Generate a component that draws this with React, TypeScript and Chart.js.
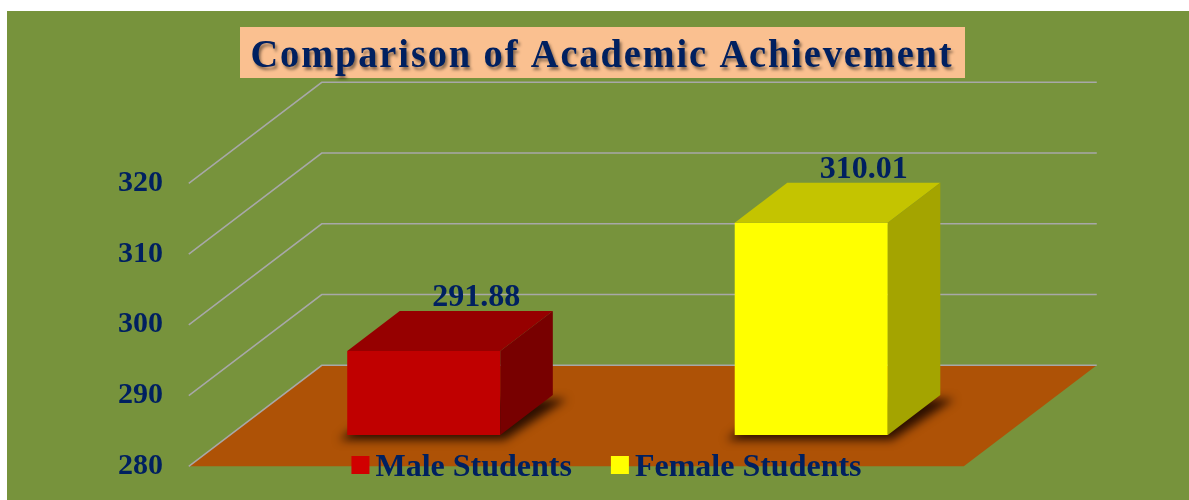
import React, { useEffect, useRef } from "react";
import { Chart, registerables } from "chart.js";

Chart.register(...registerables);

const categories = ["Male Students", "Female Students"];
const values = [291.88, 310.01];
const valueLabels = ["291.88", "310.01"];
const frontColors = ["#C00000", "#FFFF00"];
const topColors = ["#960000", "#C4C400"];
const sideColors = ["#780000", "#A4A400"];
const legendColors = ["#D00000", "#FFFF00"];
const yMin = 280;
const yMax = 320;
const yStep = 10;
const titleText = "Comparison of Academic Achievement";

const SERIF = '"Liberation Serif", "Times New Roman", serif';
const NAVY = "#002060";
// depth vector of the 3D floor and where the bars sit in it
const DEPTH_DX = 133;
const DEPTH_DY = -101;
const BAR_FRONT_T = 0.31;
const BAR_DEPTH_T = 0.395;

const scenePlugin = {
  id: "scene3d",
  beforeDraw(chart: any) {
    const ctx = chart.ctx as CanvasRenderingContext2D;
    const w = chart.width;
    const h = chart.height;
    const area = chart.chartArea;
    const ys = chart.scales.y;
    ctx.save();
    ctx.fillStyle = "#ffffff";
    ctx.fillRect(0, 0, w, h);
    ctx.fillStyle = "#77933C";
    ctx.fillRect(7, 11, w - 7, h - 11);

    // title box
    ctx.fillStyle = "#FAC090";
    ctx.fillRect(240, 27, 725, 51);
    ctx.font = `bold 40px ${SERIF}`;
    (ctx as any).letterSpacing = "2px";
    const tw = ctx.measureText(titleText).width;
    const sx = 703 / tw;
    ctx.save();
    ctx.translate(602, 67);
    ctx.scale(sx, 1);
    ctx.textAlign = "center";
    ctx.textBaseline = "alphabetic";
    ctx.shadowColor = "rgba(0,0,0,0.45)";
    ctx.shadowBlur = 3;
    ctx.shadowOffsetX = 2;
    ctx.shadowOffsetY = 3;
    ctx.fillStyle = NAVY;
    ctx.fillText(titleText, 0, 0);
    ctx.restore();
    (ctx as any).letterSpacing = "0px";

    const fx = -BAR_FRONT_T * DEPTH_DX;
    const fy = -BAR_FRONT_T * DEPTH_DY;
    const bx = (1 - BAR_FRONT_T) * DEPTH_DX;
    const by = (1 - BAR_FRONT_T) * DEPTH_DY;

    // floor
    const yb = ys.getPixelForValue(yMin);
    ctx.fillStyle = "#AE5206";
    ctx.beginPath();
    ctx.moveTo(area.left + fx, yb + fy);
    ctx.lineTo(area.right + fx, yb + fy);
    ctx.lineTo(area.right + bx, yb + by);
    ctx.lineTo(area.left + bx, yb + by);
    ctx.closePath();
    ctx.fill();

    // gridlines: side wall diagonal + back wall horizontal
    ctx.strokeStyle = "#A8A8A8";
    ctx.lineWidth = 1.5;
    for (const t of ys.ticks) {
      const p = ys.getPixelForValue(t.value);
      ctx.beginPath();
      ctx.moveTo(area.left + fx, p + fy);
      ctx.lineTo(area.left + bx, p + by);
      ctx.lineTo(area.right + bx, p + by);
      ctx.stroke();
    }
    ctx.restore();
  },
  beforeDatasetsDraw(chart: any) {
    const ctx = chart.ctx as CanvasRenderingContext2D;
    const meta = chart.getDatasetMeta(0);
    const dx = BAR_DEPTH_T * DEPTH_DX;
    const dy = BAR_DEPTH_T * DEPTH_DY;
    ctx.save();
    ctx.filter = "blur(5px)";
    ctx.fillStyle = "rgba(30,8,0,0.9)";
    meta.data.forEach((el: any) => {
      const { x, base, width } = el.getProps(["x", "base", "width"], true);
      const L = x - width / 2 - 8;
      const R = x + width / 2 + 4;
      ctx.beginPath();
      ctx.moveTo(L, base + 5);
      ctx.lineTo(R, base + 5);
      ctx.lineTo(R + dx + 10, base + dy + 4);
      ctx.lineTo(L + dx, base + dy + 4);
      ctx.closePath();
      ctx.fill();
    });
    ctx.restore();
  },
  afterDatasetsDraw(chart: any) {
    const ctx = chart.ctx as CanvasRenderingContext2D;
    const meta = chart.getDatasetMeta(0);
    const area = chart.chartArea;
    const dx = BAR_DEPTH_T * DEPTH_DX;
    const dy = BAR_DEPTH_T * DEPTH_DY;
    ctx.save();
    meta.data.forEach((el: any, i: number) => {
      const { x, y, base, width } = el.getProps(["x", "y", "base", "width"], true);
      const L = x - width / 2;
      const R = x + width / 2;
      ctx.fillStyle = topColors[i];
      ctx.beginPath();
      ctx.moveTo(L, y);
      ctx.lineTo(R, y);
      ctx.lineTo(R + dx, y + dy);
      ctx.lineTo(L + dx, y + dy);
      ctx.closePath();
      ctx.fill();
      ctx.fillStyle = sideColors[i];
      ctx.beginPath();
      ctx.moveTo(R, y);
      ctx.lineTo(R + dx, y + dy);
      ctx.lineTo(R + dx, base + dy);
      ctx.lineTo(R, base);
      ctx.closePath();
      ctx.fill();

      ctx.fillStyle = NAVY;
      ctx.font = `bold 32px ${SERIF}`;
      ctx.textAlign = "center";
      ctx.textBaseline = "alphabetic";
      ctx.fillText(valueLabels[i], x + dx, y + dy - 5);
    });

    // legend
    ctx.font = `bold 32px ${SERIF}`;
    const sq = 18;
    const gap = 6;
    const spacing = 39;
    const widths = categories.map((c) => ctx.measureText(c).width);
    const total = widths.reduce((a, b) => a + b + sq + gap, 0) + spacing * (categories.length - 1);
    let lx = (area.left + area.right) / 2 - 11 - total / 2;
    const ly = 456;
    categories.forEach((c, i) => {
      ctx.fillStyle = legendColors[i];
      ctx.fillRect(lx, ly, sq, sq);
      ctx.fillStyle = NAVY;
      ctx.textAlign = "left";
      ctx.textBaseline = "alphabetic";
      ctx.fillText(c, lx + sq + gap, ly + 20);
      lx += sq + gap + widths[i] + spacing;
    });
    ctx.restore();
  },
};

export default function App() {
  const ref = useRef<HTMLCanvasElement | null>(null);
  useEffect(() => {
    if (!ref.current) return;
    const chart = new Chart(ref.current, {
      type: "bar",
      data: {
        labels: categories,
        datasets: [
          {
            data: values,
            base: yMin,
            backgroundColor: frontColors,
            borderWidth: 0,
            barPercentage: 0.395,
            categoryPercentage: 1,
          },
        ],
      },
      options: {
        responsive: true,
        maintainAspectRatio: false,
        animation: false,
        layout: { padding: { left: 0, top: 152, right: 184, bottom: 65 } },
        plugins: {
          legend: { display: false },
          tooltip: { enabled: false },
          title: { display: false },
        },
        scales: {
          x: { display: false },
          y: {
            min: yMin,
            max: yMax,
            afterFit: (s: any) => {
              s.width = 230;
              s.paddingTop = 0;
              s.paddingBottom = 0;
            },
            border: { display: false },
            grid: { display: false, drawTicks: false },
            ticks: {
              stepSize: yStep,
              padding: 67,
              labelOffset: 31,
              color: NAVY,
              font: { family: SERIF, size: 30, weight: "bold" },
            },
          },
        },
      },
      plugins: [scenePlugin],
    } as any);
    return () => chart.destroy();
  }, []);
  return (
    <div style={{ position: "absolute", left: 0, top: 0, width: 1189, height: 500 }}>
      <canvas ref={ref} />
    </div>
  );
}
